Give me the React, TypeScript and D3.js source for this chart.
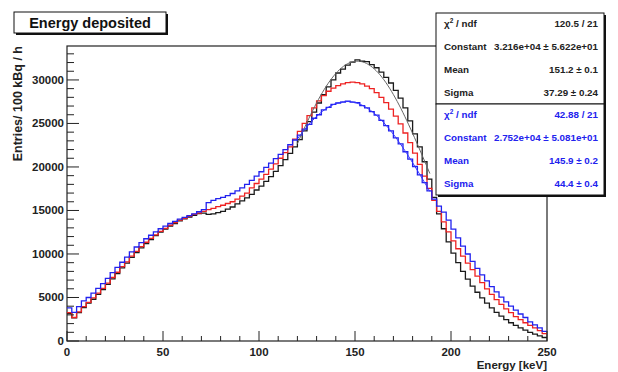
import {useEffect, useRef} from "react";
import * as d3 from "d3";

// 100 bins of 2.5 keV between 0 and 250 keV
const binEdges = d3.range(0, 250, 2.5);

const seriesBlack = [
	3150, 2650, 3250, 3850, 4350, 4800, 5350, 5900, 6500, 7150,
	7750, 8400, 8950, 9600, 10150, 10700, 11200, 11650, 12100, 12500,
	12850, 13200, 13500, 13800, 14050, 14250, 14450, 14650, 14700, 14550,
	14600, 14750, 14900, 15150, 15400, 15750, 16100, 16450, 16850, 17350,
	17800, 18350, 18900, 19500, 20150, 20850, 21550, 22300, 23150, 24150,
	25200, 26300, 27350, 28300, 29200, 30000, 30800, 31250, 31700, 32050,
	32300, 32150, 32100, 31750, 31400, 30900, 30300, 29650, 28800, 27900,
	26800, 25300, 23800, 22300, 20600, 18600, 16500, 14600, 12900, 11400,
	10100, 9000, 8000, 7100, 6300, 5600, 4950, 4350, 3800, 3300,
	2850, 2450, 2100, 1800, 1500, 1250, 1000, 800, 600, 400,
];

const seriesRed = [
	3250, 2700, 3350, 3950, 4450, 4950, 5500, 6050, 6650, 7300,
	7900, 8550, 9100, 9750, 10300, 10850, 11350, 11800, 12200, 12600,
	12950, 13300, 13600, 13900, 14100, 14350, 14550, 14700, 14900, 15100,
	15250, 15450, 15600, 15800, 16000, 16300, 16650, 17000, 17600, 18100,
	18600, 19150, 19750, 20350, 21000, 21650, 22300, 23200, 24100, 25000,
	25900, 26800, 27600, 28200, 28700, 29050, 29350, 29550, 29700, 29750,
	29700, 29550, 29300, 29000, 28550, 28000, 27400, 26650, 25850, 24950,
	23900, 22800, 21600, 20300, 18950, 17550, 16150, 14900, 13700, 12550,
	11500, 10600, 9750, 8950, 8200, 7450, 6700, 6000, 5350, 4750,
	4200, 3700, 3250, 2800, 2450, 2100, 1800, 1500, 1200, 850,
];

const seriesBlue = [
	3800, 3300, 3950, 4600, 5000, 5500, 6050, 6600, 7200, 7850,
	8450, 9050, 9650, 10250, 10800, 11300, 11750, 12150, 12550, 12900,
	13200, 13500, 13750, 14000, 14200, 14400, 14600, 14850, 15100, 15900,
	16150, 16350, 16500, 16700, 16950, 17250, 17600, 18000, 18450, 18950,
	19450, 19950, 20450, 20950, 21450, 22000, 22550, 23100, 23650, 24350,
	24900, 25600, 26000, 26550, 26850, 27200, 27350, 27450, 27550, 27450,
	27400, 27050, 26800, 26350, 25950, 25350, 24750, 24150, 23350, 22650,
	21750, 20900, 20050, 19100, 18200, 17250, 16300, 15500, 14800, 13900,
	12850, 11850, 10900, 10000, 9150, 8350, 7600, 6900, 6250, 5650,
	5050, 4500, 4000, 3550, 3100, 2700, 2200, 1850, 1500, 1100,
];

// gaussian fit parameters from the stats boxes: constant, mean, sigma
const fitBlack = [32160, 151.2, 37.29];
const fitBlue = [27520, 145.9, 44.4];
const fitRange = [120, 189];

const statsBlack = [
	["χ2 / ndf", "120.5 / 21"],
	["Constant", "3.216e+04 ± 5.622e+01"],
	["Mean", "151.2 ± 0.1"],
	["Sigma", "37.29 ± 0.24"],
];
const statsBlue = [
	["χ2 / ndf", "42.88 / 21"],
	["Constant", "2.752e+04 ± 5.081e+01"],
	["Mean", "145.9 ± 0.2"],
	["Sigma", "44.4 ± 0.4"],
];

const FONT = "'Liberation Sans', Arial, sans-serif";

const EnergyChart = () => {
	const svgRef = useRef(null);

	useEffect(() => {
		const W = 618;
		const H = 372;
		const frame = {left: 67, top: 46, right: 547, bottom: 341};

		const svg = d3.select(svgRef.current);
		svg.selectAll("*").remove();

		const x = d3.scaleLinear().domain([0, 250]).range([frame.left, frame.right]);
		const y = d3.scaleLinear().domain([0, 33900]).range([frame.bottom, frame.top]);

		// frame
		svg.append("rect")
			.attr("x", frame.left)
			.attr("y", frame.top)
			.attr("width", frame.right - frame.left)
			.attr("height", frame.bottom - frame.top)
			.attr("fill", "none")
			.attr("stroke", "#222")
			.attr("stroke-width", 1.2);

		// histograms
		const hist = (vals) => {
			const pts = binEdges.map((e, i) => [e, vals[i]]);
			pts.push([250, vals[vals.length - 1]]);
			return d3.line()
				.x((d) => x(d[0]))
				.y((d) => y(d[1]))
				.curve(d3.curveStepAfter)(pts);
		};

		[
			[seriesBlack, "#1a1a1a"],
			[seriesRed, "#ee2222"],
			[seriesBlue, "#2222ee"],
		].forEach(([vals, col]) => {
			svg.append("path")
				.attr("d", hist(vals))
				.attr("fill", "none")
				.attr("stroke", col)
				.attr("stroke-width", 1.3);
		});

		// fitted gaussians
		const gaus = (p) => (e) => p[0] * Math.exp(-((e - p[1]) ** 2) / (2 * p[2] * p[2]));
		const fitPts = d3.range(fitRange[0], fitRange[1] + 0.01, 1);
		[
			[fitBlack, "#666"],
			[fitBlue, "#3333ff"],
		].forEach(([p, col]) => {
			const f = gaus(p);
			svg.append("path")
				.attr("d", d3.line().x((e) => x(e)).y((e) => y(f(e)))(fitPts))
				.attr("fill", "none")
				.attr("stroke", col)
				.attr("stroke-width", 1);
		});

		// y axis
		const gy = svg.append("g");
		y.ticks(34).forEach((v) => {
			const major = v % 5000 === 0;
			if (v > 33900) return;
			gy.append("line")
				.attr("x1", frame.left)
				.attr("x2", frame.left + (major ? 12 : 7))
				.attr("y1", y(v))
				.attr("y2", y(v))
				.attr("stroke", "#222");
			if (major) {
				gy.append("text")
					.attr("x", frame.left - 3)
					.attr("y", y(v) + 4)
					.attr("text-anchor", "end")
					.attr("font-size", 11.5)
					.attr("font-weight", "bold")
					.attr("fill", "#222")
					.text(v);
			}
		});

		// x axis
		const gx = svg.append("g");
		d3.range(0, 251, 10).forEach((v) => {
			const major = v % 50 === 0;
			gx.append("line")
				.attr("x1", x(v))
				.attr("x2", x(v))
				.attr("y1", frame.bottom)
				.attr("y2", frame.bottom - (major ? 10 : 5))
				.attr("stroke", "#222");
		});
		d3.range(0, 251, 50).forEach((v) => {
			gx.append("text")
				.attr("x", x(v))
				.attr("y", 356)
				.attr("text-anchor", "middle")
				.attr("font-size", 11.5)
				.attr("font-weight", "bold")
				.attr("fill", "#222")
				.text(v);
		});

		// axis titles
		svg.append("text")
			.attr("x", frame.right)
			.attr("y", 369)
			.attr("text-anchor", "end")
			.attr("font-size", 11.5)
			.attr("font-weight", "bold")
			.attr("fill", "#222")
			.text("Energy [keV]");
		svg.append("text")
			.attr("transform", `translate(22,${frame.top}) rotate(-90)`)
			.attr("text-anchor", "end")
			.attr("font-size", 12.5)
			.attr("font-weight", "bold")
			.attr("fill", "#222")
			.text("Entries/ 100 kBq / h");

		// title box
		const box = (bx, by, bw, bh) => {
			svg.append("rect")
				.attr("x", bx + 2).attr("y", by + 2)
				.attr("width", bw).attr("height", bh)
				.attr("fill", "#111");
			svg.append("rect")
				.attr("x", bx).attr("y", by)
				.attr("width", bw).attr("height", bh)
				.attr("fill", "#fff")
				.attr("stroke", "#111")
				.attr("stroke-width", 1);
		};
		box(14, 12, 152, 21);
		svg.append("text")
			.attr("x", 90)
			.attr("y", 28)
			.attr("text-anchor", "middle")
			.attr("font-size", 14.5)
			.attr("font-weight", "bold")
			.attr("fill", "#111")
			.text("Energy deposited");

		// stats boxes
		const stats = (rows, by, col) => {
			box(436, by, 168, 91);
			rows.forEach(([label, val], i) => {
				const ty = by + 14 + i * 23;
				const t = svg.append("text")
					.attr("x", 444)
					.attr("y", ty)
					.attr("font-size", 9.8)
					.attr("font-weight", "bold")
					.attr("fill", col);
				if (label.startsWith("χ2")) {
					t.append("tspan").text("χ");
					t.append("tspan").attr("dy", -4).attr("font-size", 6.5).text("2");
					t.append("tspan").attr("dy", 4).text(" / ndf");
				} else {
					t.text(label);
				}
				svg.append("text")
					.attr("x", 598)
					.attr("y", ty)
					.attr("text-anchor", "end")
					.attr("font-size", 9.8)
					.attr("font-weight", "bold")
					.attr("fill", col)
					.text(val);
			});
		};
		stats(statsBlack, 13, "#222");
		stats(statsBlue, 104, "#2222ee");

		svg.attr("width", W).attr("height", H);
	}, []);

	return (
		<div style={{position: "absolute", left: 0, top: 0, width: 618, height: 372, background: "#fff"}}>
			<svg ref={svgRef} style={{display: "block", fontFamily: FONT}}></svg>
		</div>
	);
};

export default function App() {
	return <EnergyChart />;
}
